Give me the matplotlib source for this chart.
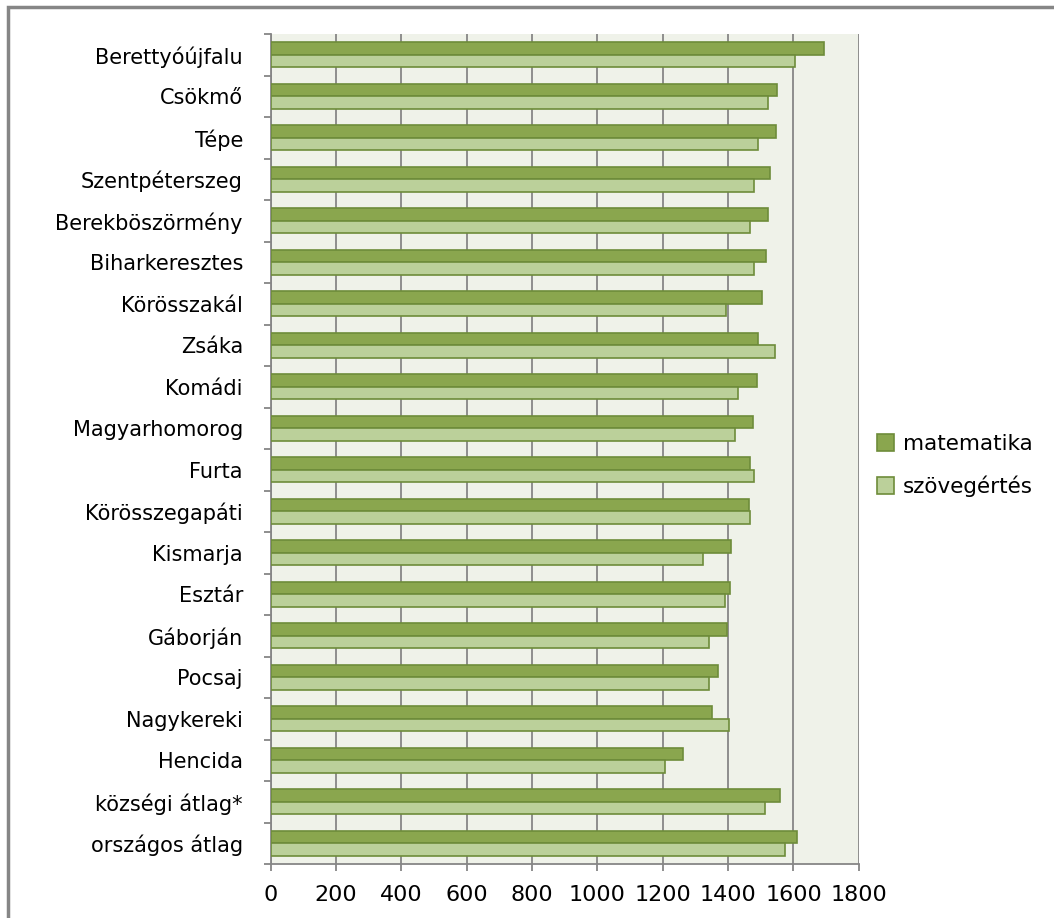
import matplotlib.pyplot as plt
import numpy as np
from matplotlib.patches import Rectangle

# települések (felülről lefelé)
telepulesek = ["Berettyóújfalu", "Csökmő", "Tépe", "Szentpéterszeg", "Berekböszörmény",
               "Biharkeresztes", "Körösszakál", "Zsáka", "Komádi", "Magyarhomorog",
               "Furta", "Körösszegapáti", "Kismarja", "Esztár", "Gáborján",
               "Pocsaj", "Nagykereki", "Hencida", "községi átlag*", "országos átlag"]
matematika = [1692, 1550, 1547, 1528, 1523, 1517, 1505, 1492, 1489, 1477,
              1468, 1464, 1409, 1406, 1396, 1369, 1350, 1263, 1560, 1611]
szovegertes = [1605, 1522, 1491, 1479, 1466, 1480, 1394, 1542, 1430, 1421,
               1480, 1468, 1322, 1390, 1341, 1341, 1403, 1208, 1512, 1574]
x_ticks = [0, 200, 400, 600, 800, 1000, 1200, 1400, 1600, 1800]

plt.rcParams['font.family'] = ['DejaVu Sans']

fig = plt.figure(figsize=(10.54, 9.18), dpi=100)
ax = fig.add_axes([0.2568, 0.0588, 0.558, 0.904])

# Keret a diagram körül
fig.patches.append(Rectangle((8 / 1054, -0.1), 1.2, 1.1 - 7 / 918, transform=fig.transFigure,
                             fill=False, edgecolor="#868686", linewidth=2.5))

y = np.arange(len(telepulesek))
h = 0.3
ax.barh(y - h / 2, matematika, height=h, color="#8AA64E", edgecolor="#6E8C3A",
        linewidth=1.2, label="matematika", zorder=3)
ax.barh(y + h / 2, szovegertes, height=h, color="#BBD09A", edgecolor="#6E8C3A",
        linewidth=1.2, label="szövegértés", zorder=3)

ax.set_facecolor("#EFF2E9")
ax.set_xlim(0, 1800)
ax.set_ylim(len(telepulesek) - 0.5, -0.5)
ax.set_xticks(x_ticks)
ax.set_xticklabels([str(v) for v in x_ticks], fontsize=16)
ax.xaxis.grid(True, color="#868686", linewidth=1.3, zorder=0)

# kategóriahatárok: kis jelek, középen a nevek
ax.set_yticks(np.arange(len(telepulesek) + 1) - 0.5)
ax.set_yticklabels([])
ax.set_yticks(y, minor=True)
ax.set_yticklabels(telepulesek, minor=True, fontsize=15)
ax.tick_params(axis='y', which='major', length=5, color="#868686", width=1.3)
ax.tick_params(axis='y', which='minor', length=0, pad=20)
ax.tick_params(axis='x', length=5, color="#868686", width=1.3, pad=10)

for side in ["top", "right"]:
    ax.spines[side].set_visible(False)
for side in ["left", "bottom"]:
    ax.spines[side].set_color("#868686")
    ax.spines[side].set_linewidth(1.3)

ax.legend(loc="center left", bbox_to_anchor=(0.998, 0.48), frameon=False, fontsize=15.5,
          handlelength=0.8, handleheight=0.8, handletextpad=0.4, labelspacing=1.0)

fig.savefig("out.png", dpi=100)
